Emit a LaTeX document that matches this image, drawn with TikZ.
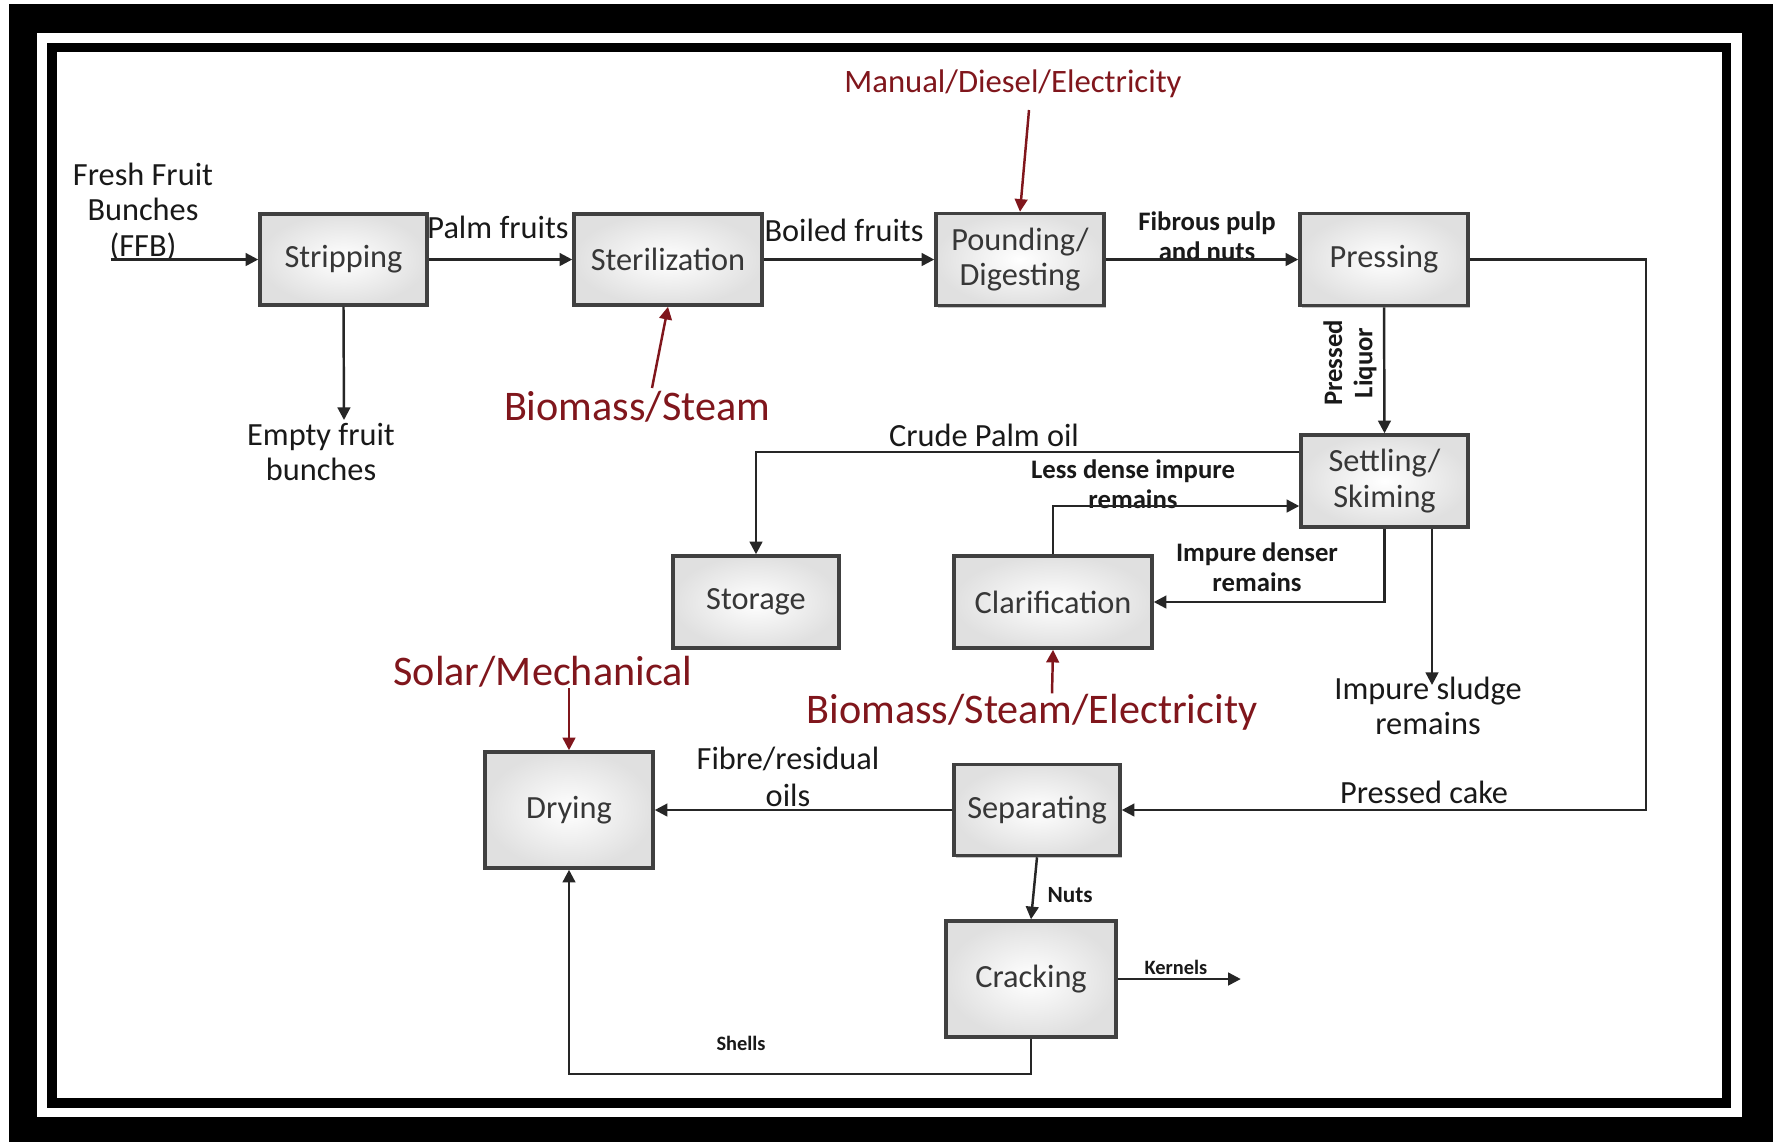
\documentclass[tikz,border=0pt]{standalone}
\usepackage{fontspec}
\setmainfont{Carlito}
\usetikzlibrary{arrows.meta,shadows}

\definecolor{energyred}{RGB}{128,22,28}
\definecolor{boxline}{RGB}{64,64,64}
\definecolor{boxtext}{RGB}{55,55,55}

\tikzset{
  proc/.style={draw=boxline, line width=1pt, inner color=white, outer color=black!12,
    text=boxtext, align=center, inner sep=0pt, font=\fontsize{9.2}{10}\selectfont,
    drop shadow={shadow xshift=0.7pt, shadow yshift=-0.7pt, opacity=0.45}},
  flow/.style={->, line width=0.7pt, draw=black!85},
  energy/.style={->, line width=0.7pt, draw=energyred},
  lbl/.style={align=center, inner sep=0pt, text=black!90, font=\fontsize{9.2}{10}\selectfont},
  lblsmall/.style={align=center, inner sep=0pt, text=black!90, font=\fontsize{7.6}{8.6}\selectfont\bfseries},
  lbltiny/.style={inner sep=0pt, text=black!90, font=\fontsize{5.8}{6.5}\selectfont\bfseries},
  src/.style={inner sep=0pt, text=energyred, font=\fontsize{12}{14}\selectfont},
}

\begin{document}
\begin{tikzpicture}[x=1cm, y=1cm, >={Triangle[length=3.6pt,width=3.6pt]}]
  \useasboundingbox (0,0) rectangle (17.73,-11.42);

  % Frame
  \fill (0.09,-0.04) rectangle (17.73,-11.42);
  \fill[white] (0.37,-0.33) rectangle (17.42,-11.17);
  \fill (0.47,-0.43) rectangle (17.31,-11.08);
  \fill[white] (0.57,-0.52) rectangle (17.22,-10.98);

  % Process steps
  \node[proc, minimum width=1.67cm, minimum height=0.91cm] (strip) at (3.435,-2.595) {Stripping};
  \node[proc, minimum width=1.88cm, minimum height=0.91cm] (steril) at (6.68,-2.595) {Sterilization};
  \node[proc, minimum width=1.68cm, minimum height=0.92cm] (pound) at (10.20,-2.595) {Pounding/\\Digesting};
  \node[proc, minimum width=1.68cm, minimum height=0.92cm] (press) at (13.84,-2.595) {Pressing};
  \node[proc, minimum width=1.67cm, minimum height=0.92cm] (settle) at (13.845,-4.81) {Settling/\\Skiming};
  \node[proc, minimum width=1.66cm, minimum height=0.92cm] (storage) at (7.56,-6.02) {Storage};
  \node[proc, minimum width=1.98cm, minimum height=0.92cm] (clarif) at (10.53,-6.02) {Clarification};
  \node[proc, minimum width=1.68cm, minimum height=1.16cm] (drying) at (5.69,-8.10) {Drying};
  \node[proc, minimum width=1.66cm, minimum height=0.91cm] (separ) at (10.37,-8.10) {Separating};
  \node[proc, minimum width=1.70cm, minimum height=1.16cm] (crack) at (10.31,-9.79) {Cracking};

  % Flow labels
  \node[lbl] (ffb) at (1.43,-2.12) {Fresh Fruit\\Bunches\\(FFB)};
  \node[lbl] (palm) at (4.98,-2.27) {Palm fruits};
  \node[lbl] (boiled) at (8.44,-2.30) {Boiled fruits};
  \node[lblsmall] (fibrous) at (12.07,-2.36) {Fibrous pulp\\and nuts};
  \node[lblsmall, rotate=90] (liquor) at (13.50,-3.63) {Pressed\\Liquor};
  \node[lbl] (efb) at (3.21,-4.52) {Empty fruit\\bunches};
  \node[lbl] (crude) at (9.84,-4.35) {Crude Palm oil};
  \node[lblsmall] (lessdense) at (11.33,-4.84) {Less dense impure\\remains};
  \node[lblsmall] (denser) at (12.57,-5.67) {Impure denser\\remains};
  \node[lbl] (sludge) at (14.28,-7.06) {Impure sludge\\remains};
  \node[lbl] (cake) at (14.24,-7.92) {Pressed cake};
  \node[lbl, font=\fontsize{9.2}{10.6}\selectfont] (fibre) at (7.88,-7.765) {Fibre/residual\\oils};
  \node[lbltiny, font=\fontsize{6.6}{7}\selectfont\bfseries] (nuts) at (10.70,-8.95) {Nuts};
  \node[lbltiny] (kernels) at (11.76,-9.67) {Kernels};
  \node[lbltiny] (shells) at (7.41,-10.43) {Shells};

  % Energy inputs
  \node[src, font=\fontsize{9.3}{11}\selectfont] (manual) at (10.13,-0.84) {Manual/Diesel/Electricity};
  \node[src] (biosteam) at (6.37,-4.07) {Biomass/Steam};
  \node[src] (bioelec) at (10.32,-7.12) {Biomass/Steam/Electricity};
  \node[src] (solar) at (5.43,-6.72) {Solar/Mechanical};

  % Main line
  \coordinate (ffbin) at (1.11,-2.595);
  \draw[flow] (ffbin) -- (strip.west);
  \draw[flow] (strip) -- (steril);
  \draw[flow] (steril) -- (pound);
  \draw[flow] (pound) -- (press);
  \coordinate (efbtip) at (3.44,-4.20);
  \draw[flow] (strip.south) -- (efbtip);

  % Oil line
  \draw[flow] (press.south) -- (settle.north);
  \draw[flow] ([yshift=0.29cm]settle.west) -| (storage.north);
  \draw[flow] (clarif.north) |- ([yshift=-0.25cm]settle.west);
  \draw[flow] (settle.south) |- (clarif.east);
  \coordinate (sludgetip) at (14.32,-6.85);
  \draw[flow] (sludgetip |- settle.south) -- (sludgetip);

  % Cake line
  \draw[flow] (press.east) -- ++(1.76,0) |- (separ.east);
  \draw[flow] (separ) -- (drying);
  \draw[flow] (separ.south) -- (crack.north);
  \draw[flow] (crack.south) -- ++(0,-0.35) -| (drying.south);
  \draw[flow] (crack.east) -- ++(1.23,0);

  % Energy arrows
  \coordinate (mtop) at (10.29,-1.10);
  \draw[energy] (mtop) -- (pound.north);
  \coordinate (btop) at (6.52,-3.88);
  \draw[energy] (btop) -- (steril.south);
  \draw[energy] ([xshift=0.2cm]bioelec.north) -- (clarif.south);
  \draw[energy] (solar.south -| drying.north) -- (drying.north);
\end{tikzpicture}
\end{document}
